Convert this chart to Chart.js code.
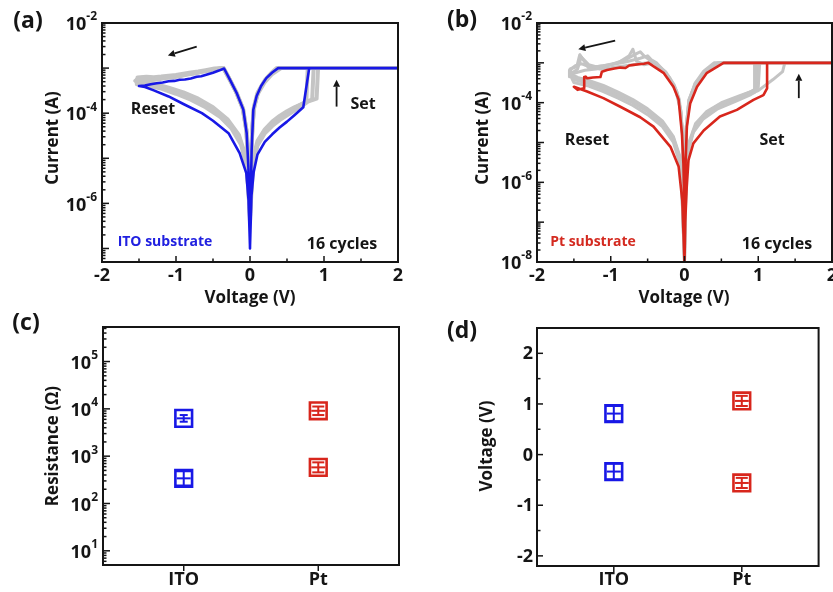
<!DOCTYPE html>
<html><head><meta charset="utf-8">
<script src="https://cdn.jsdelivr.net/npm/chart.js@4.4.1/dist/chart.umd.min.js"></script>
<style>
html,body{margin:0;padding:0;background:#fff;width:833px;height:592px;overflow:hidden}
canvas{position:absolute;left:0;top:0}
</style></head><body>
<canvas id="ca" width="833" height="592"></canvas>
<canvas id="cb" width="833" height="592"></canvas>
<canvas id="cc" width="833" height="592"></canvas>
<canvas id="cd" width="833" height="592"></canvas>
<script>
// ---------------- DATA ----------------
// Panel (a): ITO substrate I-V, [voltage V, current A]
const ivITO = [[0,1.1e-7],[0.02,1.5e-6],[0.05,5e-6],[0.1,1.2e-5],[0.2,2.3e-5],[0.3,3.4e-5],[0.4,4.8e-5],[0.5,6.5e-5],[0.6,9e-5],[0.72,1.35e-4],[0.8,1e-3],[2,1e-3],
 [0.38,1e-3],[0.3,8e-4],[0.22,6e-4],[0.15,4e-4],[0.09,2.4e-4],[0.045,1.2e-4],[0.022,1.5e-5],[0.009,1.2e-6],[0,1e-7],
 [-0.01,1.5e-6],[-0.022,6.5e-6],[-0.045,3.6e-5],[-0.09,1.2e-4],[-0.18,2.8e-4],[-0.27,5.5e-4],[-0.35,9.8e-4],
 [-0.42,8.8e-4],[-0.5,7.9e-4],[-0.58,7.2e-4],[-0.66,6.6e-4],[-0.72,6.4e-4],[-0.8,5.9e-4],[-0.88,5.6e-4],[-0.95,5.5e-4],[-1.02,5.2e-4],[-1.1,5.1e-4],[-1.18,4.8e-4],[-1.26,4.6e-4],[-1.34,4.4e-4],[-1.42,4.1e-4],[-1.5,4e-4],
 [-1.42,3.8e-4],[-1.3,3.2e-4],[-1.1,2.35e-4],[-0.9,1.6e-4],[-0.65,1e-4],[-0.5,6.8e-5],[-0.29,3.6e-5],[-0.14,1.3e-5],[-0.05,4.7e-6],[-0.02,1.2e-6],[-0.005,2e-7],[0,1.1e-7]];
const ivITOGray1 = [[0,4e-7],[0.02,3e-6],[0.05,9e-6],[0.1,1.9e-5],[0.2,3.6e-5],[0.3,5.2e-5],[0.4,7e-5],[0.5,9e-5],[0.6,1.15e-4],[0.7,1.45e-4],[0.76,1.7e-4],[0.78,1e-3],[2,1e-3],
 [0.36,1e-3],[0.28,7.6e-4],[0.2,5.4e-4],[0.12,3.2e-4],[0.06,1.5e-4],[0.03,5e-5],[0.012,4e-6],[0,4e-7],
 [-0.012,2e-6],[-0.025,9e-6],[-0.05,4.4e-5],[-0.1,1.3e-4],[-0.19,3e-4],[-0.28,5.8e-4],[-0.355,1e-3],
 [-0.45,9.6e-4],[-0.55,8.8e-4],[-0.65,8.4e-4],[-0.75,7.6e-4],[-0.85,7.2e-4],[-0.95,6.6e-4],[-1.05,6.2e-4],[-1.15,6e-4],[-1.25,5.6e-4],[-1.35,5.4e-4],[-1.45,5.4e-4],[-1.53,5.6e-4],
 [-1.53,4.4e-4],[-1.4,4.1e-4],[-1.2,3.5e-4],[-1.0,2.7e-4],[-0.8,2e-4],[-0.6,1.35e-4],[-0.4,8.2e-5],[-0.25,4.6e-5],[-0.12,2e-5],[-0.05,7e-6],[-0.02,2e-6],[0,4e-7]];
const ivITOGray2 = [[0,6e-7],[0.03,5e-6],[0.1,2.1e-5],[0.2,4e-5],[0.3,6e-5],[0.4,8e-5],[0.5,1.02e-4],[0.6,1.3e-4],[0.7,1.6e-4],[0.8,1.9e-4],[0.84,2e-4],[0.86,1e-3],[2,1e-3],
 [0.4,1e-3],[0.3,7.8e-4],[0.2,5.2e-4],[0.1,2.8e-4],[0.05,1.3e-4],[0.02,2e-5],[0,6e-7],
 [-0.012,2e-6],[-0.024,8e-6],[-0.048,4e-5],[-0.095,1.25e-4],[-0.185,2.9e-4],[-0.275,5.6e-4],[-0.36,1e-3],
 [-0.5,9.2e-4],[-0.6,8.6e-4],[-0.7,8e-4],[-0.8,7.6e-4],[-0.9,7e-4],[-1.0,6.8e-4],[-1.1,6.3e-4],[-1.2,6.2e-4],[-1.3,5.9e-4],[-1.4,6.1e-4],[-1.5,6e-4],[-1.55,5.2e-4],
 [-1.5,4.8e-4],[-1.3,4.2e-4],[-1.1,3.4e-4],[-0.9,2.6e-4],[-0.7,1.85e-4],[-0.5,1.2e-4],[-0.3,6.5e-5],[-0.15,3e-5],[-0.05,9e-6],[0,6e-7]];
const ivITOGray3 = [[0,5e-7],[0.05,1.1e-5],[0.1,2.4e-5],[0.2,4.4e-5],[0.3,6.5e-5],[0.4,8.7e-5],[0.5,1.1e-4],[0.6,1.35e-4],[0.7,1.6e-4],[0.8,1.85e-4],[0.9,2.1e-4],[0.92,1e-3],[2,1e-3],
 [0.42,1e-3],[0.3,7.4e-4],[0.2,4.9e-4],[0.1,2.6e-4],[0.05,1.2e-4],[0.02,1.8e-5],[0,5e-7],
 [-0.011,1.8e-6],[-0.023,7e-6],[-0.046,3.8e-5],[-0.092,1.22e-4],[-0.182,2.85e-4],[-0.272,5.5e-4],[-0.36,1e-3],
 [-0.48,9.8e-4],[-0.6,9e-4],[-0.7,8.4e-4],[-0.8,8e-4],[-0.9,7.5e-4],[-1.0,7e-4],[-1.1,6.8e-4],[-1.2,6.5e-4],[-1.3,6.3e-4],[-1.4,6.4e-4],[-1.52,6.2e-4],
 [-1.5,5.2e-4],[-1.3,4.5e-4],[-1.1,3.7e-4],[-0.9,2.9e-4],[-0.7,2.1e-4],[-0.5,1.35e-4],[-0.3,7.2e-5],[-0.15,3.3e-5],[-0.05,1e-5],[0,5e-7]];

// Panel (b): Pt substrate I-V, [voltage V, current A]
const ivPt = [[0,1e-8],[0.01,1e-7],[0.03,7.5e-7],[0.054,3.6e-6],[0.12,9.5e-6],[0.26,2e-5],[0.48,4.5e-5],[0.71,6.6e-5],[0.935,1.17e-4],[1.07,1.55e-4],[1.12,2.3e-4],[1.12,1e-3],[2,1e-3],
 [0.53,1e-3],[0.3,5.5e-4],[0.17,2.5e-4],[0.077,9.5e-5],[0.032,2.5e-5],[0.016,3.6e-6],[0.005,3.5e-7],[0,1e-8],
 [-0.005,3e-7],[-0.015,3e-6],[-0.035,1.7e-5],[-0.08,1.2e-4],[-0.15,2.5e-4],[-0.28,5.5e-4],[-0.49,1e-3],
 [-0.55,9.5e-4],[-0.62,9.2e-4],[-0.69,8.9e-4],[-0.75,8.6e-4],[-0.8,7.4e-4],[-0.87,7.6e-4],[-0.95,7.2e-4],[-1.05,6.6e-4],[-1.12,6e-4],[-1.14,4.4e-4],[-1.24,4.3e-4],[-1.32,4.1e-4],[-1.34,4.5e-4],[-1.36,4.4e-4],[-1.36,2.3e-4],[-1.45,2.1e-4],[-1.5,2.5e-4],
 [-1.32,1.9e-4],[-1.1,1.3e-4],[-0.87,7.9e-5],[-0.6,4.3e-5],[-0.42,2.5e-5],[-0.19,7.8e-6],[-0.08,2.5e-6],[-0.03,3.5e-7],[0,1e-8]];
const ivPtGray1 = [[0,1e-8],[0.01,3e-7],[0.03,2e-6],[0.06,7e-6],[0.12,1.8e-5],[0.25,3.8e-5],[0.45,7e-5],[0.7,1.1e-4],[0.9,1.6e-4],[0.95,1.8e-4],[0.95,1e-3],[2,1e-3],
 [0.45,1e-3],[0.28,6e-4],[0.15,2.9e-4],[0.07,1.1e-4],[0.03,2.8e-5],[0.012,2e-6],[0,1e-8],
 [-0.01,2e-6],[-0.03,2e-5],[-0.07,1.2e-4],[-0.14,2.8e-4],[-0.25,5.8e-4],[-0.4,1e-3],
 [-0.45,1.1e-3],[-0.55,1.5e-3],[-0.6,1.9e-3],[-0.65,1.7e-3],[-0.8,1.2e-3],[-1.0,9e-4],[-1.2,8e-4],[-1.3,9e-4],[-1.4,1.4e-3],[-1.45,7e-4],[-1.5,6e-4],[-1.55,5e-4],
 [-1.5,3.2e-4],[-1.3,2.6e-4],[-1.1,1.9e-4],[-0.9,1.3e-4],[-0.7,8.5e-5],[-0.5,5e-5],[-0.3,2.5e-5],[-0.15,1e-5],[-0.05,2.5e-6],[-0.01,3e-7],[0,1e-8]];
const ivPtGray2 = [[0,1e-8],[0.02,1e-6],[0.05,6e-6],[0.12,2e-5],[0.25,4.5e-5],[0.45,8.5e-5],[0.7,1.3e-4],[0.9,1.9e-4],[1.0,2.4e-4],[1.02,1e-3],[2,1e-3],
 [0.4,1e-3],[0.26,6.2e-4],[0.14,3e-4],[0.06,1.1e-4],[0.025,2.6e-5],[0,1e-8],
 [-0.02,1e-5],[-0.05,6e-5],[-0.1,1.8e-4],[-0.2,4.2e-4],[-0.32,7.5e-4],[-0.42,1e-3],
 [-0.55,9e-4],[-0.65,1.1e-3],[-0.7,2.2e-3],[-0.75,1.5e-3],[-0.9,1e-3],[-1.1,8.5e-4],[-1.3,7.5e-4],[-1.42,1.6e-3],[-1.46,8e-4],[-1.55,7e-4],
 [-1.5,3.8e-4],[-1.3,3e-4],[-1.1,2.2e-4],[-0.9,1.5e-4],[-0.7,1e-4],[-0.5,6e-5],[-0.3,3e-5],[-0.15,1.2e-5],[-0.05,3e-6],[0,1e-8]];
const ivPtGray3 = [[0,1e-8],[0.02,1.2e-6],[0.06,9e-6],[0.15,2.6e-5],[0.3,5.2e-5],[0.5,8.5e-5],[0.75,1.3e-4],[1.0,2e-4],[1.2,3.8e-4],[1.33,6e-4],[1.36,1e-3],[2,1e-3],
 [0.48,1e-3],[0.3,6.5e-4],[0.15,3.1e-4],[0.06,1.2e-4],[0.02,2e-5],[0,1e-8],
 [-0.02,1.1e-5],[-0.05,6.5e-5],[-0.12,2.2e-4],[-0.25,5.5e-4],[-0.38,1e-3],
 [-0.45,1.2e-3],[-0.5,1.5e-3],[-0.6,1.3e-3],[-0.8,1.05e-3],[-1.0,9e-4],[-1.2,7e-4],[-1.35,6.5e-4],[-1.5,5.5e-4],[-1.55,5.5e-4],
 [-1.5,4.2e-4],[-1.3,3.4e-4],[-1.1,2.5e-4],[-0.9,1.7e-4],[-0.7,1.1e-4],[-0.5,6.5e-5],[-0.3,3.2e-5],[-0.15,1.3e-5],[-0.05,3.5e-6],[0,1e-8]];
const ivPtGray4 = [[0,1e-8],[0.02,1.5e-6],[0.06,1e-5],[0.15,3e-5],[0.3,6e-5],[0.5,1e-4],[0.75,1.5e-4],[0.9,1.9e-4],[0.98,2.2e-4],[0.99,1e-3],[2,1e-3],
 [0.5,1e-3],[0.3,6.2e-4],[0.15,3e-4],[0.06,1.15e-4],[0.02,2e-5],[0,1e-8],
 [-0.02,1e-5],[-0.05,6e-5],[-0.12,2.1e-4],[-0.25,5.3e-4],[-0.42,1.05e-3],
 [-0.5,1e-3],[-0.6,9.5e-4],[-0.8,8.5e-4],[-1.0,7.5e-4],[-1.15,7e-4],[-1.3,8e-4],[-1.4,9.5e-4],[-1.48,8.5e-4],[-1.56,6.5e-4],[-1.56,4.5e-4],[-1.5,4.8e-4],
 [-1.45,4.3e-4],[-1.3,3.6e-4],[-1.1,2.7e-4],[-0.9,1.85e-4],[-0.7,1.2e-4],[-0.5,7e-5],[-0.3,3.5e-5],[-0.15,1.4e-5],[-0.05,3.8e-6],[0,1e-8]];

// Panels (c), (d)
const substrates = ['ITO', 'Pt'];
const resHRS = [6300, 9100];       // Ohm
const resHRSLo = [5350, 7400];
const resHRSHi = [7400, 11200];
const resLRS = [340, 580];
const resLRSLo = [240, 455];
const resLRSHi = [480, 740];
const vSet = [0.81, 1.06];          // V
const vSetLo = [0.66, 0.96];
const vSetHi = [0.96, 1.16];
const vReset = [-0.335, -0.56];
const vResetLo = [-0.49, -0.66];
const vResetHi = [-0.18, -0.46];

const xTicksIV = [-2, -1, 0, 1, 2];
const xMinorIV = [-1.5, -0.5, 0.5, 1.5];
const yExpA = [-2, -4, -6];
const yExpB = [-2, -4, -6, -8];
const yExpC = [1, 2, 3, 4, 5];
const yTicksD = [-2, -1, 0, 1, 2];
const yMinorD = [-1.5, -0.5, 0.5, 1.5];

// ---------------- STYLE ----------------
const FONT = "'Open Sans', 'DejaVu Sans', sans-serif";
const BLUE = '#1818e6', RED = '#d8261c', GRAY = '#c4c4c4', INK = '#151515';
const W = 833, H = 592;

const pts = arr => arr.map(([x, y]) => ({x, y}));

const decor = {
  id: 'decor',
  afterDraw(chart, args, o) {
    const ctx = chart.ctx, a = chart.chartArea, xs = chart.scales.x, ys = chart.scales.y;
    ctx.save();
    const seg = (x1, y1, x2, y2) => { ctx.beginPath(); ctx.moveTo(x1, y1); ctx.lineTo(x2, y2); ctx.stroke(); };
    ctx.strokeStyle = INK; ctx.lineWidth = 1.5;
    const xd = o.xDir || -1;
    (o.xMajor || []).forEach(v => { const x = xs.getPixelForValue(v); seg(x, a.bottom, x, a.bottom + xd * 6); });
    (o.xMinor || []).forEach(v => { const x = xs.getPixelForValue(v); seg(x, a.bottom, x, a.bottom + xd * 3.5); });
    if (o.yLog) {
      const lo = Math.floor(Math.log10(ys.min)), hi = Math.ceil(Math.log10(ys.max));
      for (let e = lo; e <= hi; e++) for (let k = 1; k <= 9; k++) {
        const v = k * Math.pow(10, e);
        if (v < ys.min * 0.999 || v > ys.max * 1.001) continue;
        const y = ys.getPixelForValue(v);
        seg(a.left, y, a.left + (k === 1 ? 7 : 3.5), y);
      }
    } else {
      (o.yMajor || []).forEach(v => { const y = ys.getPixelForValue(v); seg(a.left, y, a.left + 6, y); });
      (o.yMinor || []).forEach(v => { const y = ys.getPixelForValue(v); seg(a.left, y, a.left + 3.5, y); });
    }
    ctx.lineWidth = 2; ctx.strokeStyle = INK;
    ctx.strokeRect(a.left, a.top, a.right - a.left, a.bottom - a.top);
    ctx.fillStyle = INK; ctx.textAlign = 'center'; ctx.textBaseline = 'alphabetic';
    ctx.font = `bold 18px ${FONT}`;
    (o.xLabels || []).forEach(([v, t]) => ctx.fillText(t, xs.getPixelForValue(v), o.xLabelY));
    if (o.yExp) {
      const right = a.left - 5;
      o.yExp.forEach(e => {
        const y = ys.getPixelForValue(Math.pow(10, e));
        const sup = String(e);
        ctx.font = `bold 12px ${FONT}`;
        const w2 = ctx.measureText(sup).width;
        ctx.textAlign = 'left'; ctx.textBaseline = 'middle';
        ctx.fillText(sup, right - w2, y - 6);
        ctx.font = `bold 18px ${FONT}`; ctx.textAlign = 'right';
        ctx.fillText('10', right - w2, y + 2);
      });
    }
    if (o.yLabels) {
      ctx.font = `bold 18px ${FONT}`; ctx.textAlign = 'right'; ctx.textBaseline = 'middle';
      o.yLabels.forEach(v => ctx.fillText(String(v), a.left - 4, ys.getPixelForValue(v) + 1));
    }
    (o.texts || []).forEach(t => {
      ctx.save();
      ctx.font = `bold ${t.size || 16}px ${FONT}`; ctx.fillStyle = t.color || INK;
      ctx.textAlign = 'center'; ctx.textBaseline = 'middle';
      ctx.translate(t.x, t.y); if (t.rot) ctx.rotate(t.rot);
      ctx.fillText(t.t, 0, 0); ctx.restore();
    });
    (o.arrows || []).forEach(([x1, y1, x2, y2]) => {
      const p1 = [xs.getPixelForValue(x1), ys.getPixelForValue(y1)], p2 = [xs.getPixelForValue(x2), ys.getPixelForValue(y2)];
      const ang = Math.atan2(p2[1] - p1[1], p2[0] - p1[0]);
      ctx.strokeStyle = INK; ctx.fillStyle = INK; ctx.lineWidth = 1.8;
      const hx = p2[0] - Math.cos(ang) * 7, hy = p2[1] - Math.sin(ang) * 7;
      seg(p1[0], p1[1], hx, hy);
      ctx.beginPath(); ctx.moveTo(p2[0], p2[1]);
      ctx.lineTo(hx + Math.sin(ang) * 3.5, hy - Math.cos(ang) * 3.5);
      ctx.lineTo(hx - Math.sin(ang) * 3.5, hy + Math.cos(ang) * 3.5);
      ctx.closePath(); ctx.fill();
    });
    ctx.restore();
  }
};

const errBars = {
  id: 'errBars',
  afterDatasetsDraw(chart) {
    const ctx = chart.ctx, xs = chart.scales.x, ys = chart.scales.y;
    chart.data.datasets.forEach(ds => {
      if (!ds.errLo) return;
      ctx.save(); ctx.strokeStyle = ds.borderColor; ctx.lineWidth = 2;
      const seg = (x1, y1, x2, y2) => { ctx.beginPath(); ctx.moveTo(x1, y1); ctx.lineTo(x2, y2); ctx.stroke(); };
      ds.data.forEach((p, j) => {
        const x = xs.getPixelForValue(p.x), y = ys.getPixelForValue(p.y);
        const y1 = ys.getPixelForValue(ds.errLo[j]), y2 = ys.getPixelForValue(ds.errHi[j]);
        const cw = ds.capHalf[j];
        seg(x, y1, x, y2); seg(x - cw, y1, x + cw, y1); seg(x - cw, y2, x + cw, y2);
        seg(x - 7, y, x + 7, y);
      });
      ctx.restore();
    });
  }
};

// order: lower value is drawn on top
function ivLine(arr, color, width, order) {
  return { data: pts(arr), borderColor: color, borderWidth: width, pointRadius: 0, tension: 0, order: order,
           fill: false, borderJoinStyle: 'round', borderCapStyle: 'round' };
}

function baseOpts(area, xScale, yScale, decorOpts) {
  return {
    responsive: false, animation: false, devicePixelRatio: 1,
    layout: { padding: { left: area[0], top: area[1], right: W - area[2], bottom: H - area[3] } },
    plugins: { legend: { display: false }, tooltip: { enabled: false }, decor: decorOpts },
    scales: { x: Object.assign({ display: false }, xScale), y: Object.assign({ display: false }, yScale) }
  };
}

// ---------- (a) ----------
new Chart(document.getElementById('ca'), {
  type: 'line',
  data: { datasets: [ivLine(ivITO, BLUE, 2.6, 0), ivLine(ivITOGray1, GRAY, 4, 1), ivLine(ivITOGray2, GRAY, 4, 1), ivLine(ivITOGray3, GRAY, 4, 1)] },
  options: baseOpts([102, 23, 398, 262],
    { type: 'linear', min: -2, max: 2 },
    { type: 'logarithmic', min: Math.pow(10, -7.3), max: 1e-2 },
    { xMajor: xTicksIV, xMinor: xMinorIV, yLog: true, yExp: yExpA, xLabelY: 281,
      xLabels: xTicksIV.map(v => [v, String(v)]),
      texts: [
        { t: '(a)', x: 28, y: 21, size: 23 },
        { t: 'Current (A)', x: 53, y: 138, size: 17, rot: -Math.PI / 2 },
        { t: 'Voltage (V)', x: 250, y: 298, size: 17 },
        { t: 'Reset', x: 153, y: 109, size: 16 },
        { t: 'Set', x: 363, y: 104, size: 16 },
        { t: 'ITO substrate', x: 165, y: 242, size: 14, color: '#2020e0' },
        { t: '16 cycles', x: 342, y: 244, size: 16 }
      ],
      arrows: [[1.17, 1.4e-4, 1.17, 5.5e-4], [-0.72, 3e-3, -1.11, 1.9e-3]]
    }),
  plugins: [decor]
});

// ---------- (b) ----------
new Chart(document.getElementById('cb'), {
  type: 'line',
  data: { datasets: [ivLine(ivPt, RED, 2.6, 0), ivLine(ivPtGray1, GRAY, 3, 1), ivLine(ivPtGray2, GRAY, 3, 1), ivLine(ivPtGray3, GRAY, 3, 1), ivLine(ivPtGray4, GRAY, 3, 1)] },
  options: baseOpts([537, 23, 832, 262],
    { type: 'linear', min: -2, max: 2 },
    { type: 'logarithmic', min: 1e-8, max: 1e-2 },
    { xMajor: xTicksIV, xMinor: xMinorIV, yLog: true, yExp: yExpB, xLabelY: 281,
      xLabels: xTicksIV.map(v => [v, String(v)]),
      texts: [
        { t: '(b)', x: 462, y: 20, size: 23 },
        { t: 'Current (A)', x: 483, y: 138, size: 17, rot: -Math.PI / 2 },
        { t: 'Voltage (V)', x: 684, y: 298, size: 17 },
        { t: 'Reset', x: 587, y: 140, size: 16 },
        { t: 'Set', x: 772, y: 140, size: 16 },
        { t: 'Pt substrate', x: 593, y: 242, size: 14, color: '#d42a20' },
        { t: '16 cycles', x: 777, y: 244, size: 16 }
      ],
      arrows: [[1.55, 1.3e-4, 1.55, 5.3e-4], [-0.94, 3.6e-3, -1.44, 2.2e-3]]
    }),
  plugins: [decor]
});

function boxSet(i, vals, lo, hi, color, caps) {
  return { type: 'scatter', data: vals.map(v => ({ x: i + 1, y: v })), errLo: lo, errHi: hi, capHalf: caps,
           borderColor: color, backgroundColor: '#ffffff', pointStyle: 'rect', pointRadius: 11.8, borderWidth: 2.6 };
}

// ---------- (c) ----------
new Chart(document.getElementById('cc'), {
  type: 'scatter',
  data: { datasets: [
    boxSet(0, [resHRS[0], resLRS[0]], [resHRSLo[0], resLRSLo[0]], [resHRSHi[0], resLRSHi[0]], BLUE, [4, 8]),
    boxSet(1, [resHRS[1], resLRS[1]], [resHRSLo[1], resLRSLo[1]], [resHRSHi[1], resLRSHi[1]], RED, [6, 6])
  ] },
  options: baseOpts([103, 327, 399, 565],
    { type: 'linear', min: 0.4, max: 2.6 },
    { type: 'logarithmic', min: Math.pow(10, 0.7), max: Math.pow(10, 5.73) },
    { xMajor: [1, 2], xDir: 1, yLog: true, yExp: yExpC, xLabelY: 585,
      xLabels: substrates.map((s, i) => [i + 1, s]),
      texts: [
        { t: '(c)', x: 26, y: 323, size: 23 },
        { t: 'Resistance (\u03A9)', x: 53, y: 446, size: 17, rot: -Math.PI / 2 }
      ]
    }),
  plugins: [decor, errBars]
});

// ---------- (d) ----------
new Chart(document.getElementById('cd'), {
  type: 'scatter',
  data: { datasets: [
    boxSet(0, [vSet[0], vReset[0]], [vSetLo[0], vResetLo[0]], [vSetHi[0], vResetHi[0]], BLUE, [8, 8]),
    boxSet(1, [vSet[1], vReset[1]], [vSetLo[1], vResetLo[1]], [vSetHi[1], vResetHi[1]], RED, [6, 6])
  ] },
  options: baseOpts([537, 328, 832, 566],
    { type: 'linear', min: 0.4, max: 2.6 },
    { type: 'linear', min: -2.2, max: 2.5 },
    { xMajor: [1, 2], xDir: 1, yMajor: yTicksD, yMinor: yMinorD, yLabels: yTicksD, xLabelY: 585,
      xLabels: substrates.map((s, i) => [i + 1, s]),
      texts: [
        { t: '(d)', x: 462, y: 331, size: 23 },
        { t: 'Voltage (V)', x: 487, y: 446, size: 17, rot: -Math.PI / 2 }
      ]
    }),
  plugins: [decor, errBars]
});
</script>
</body></html>
